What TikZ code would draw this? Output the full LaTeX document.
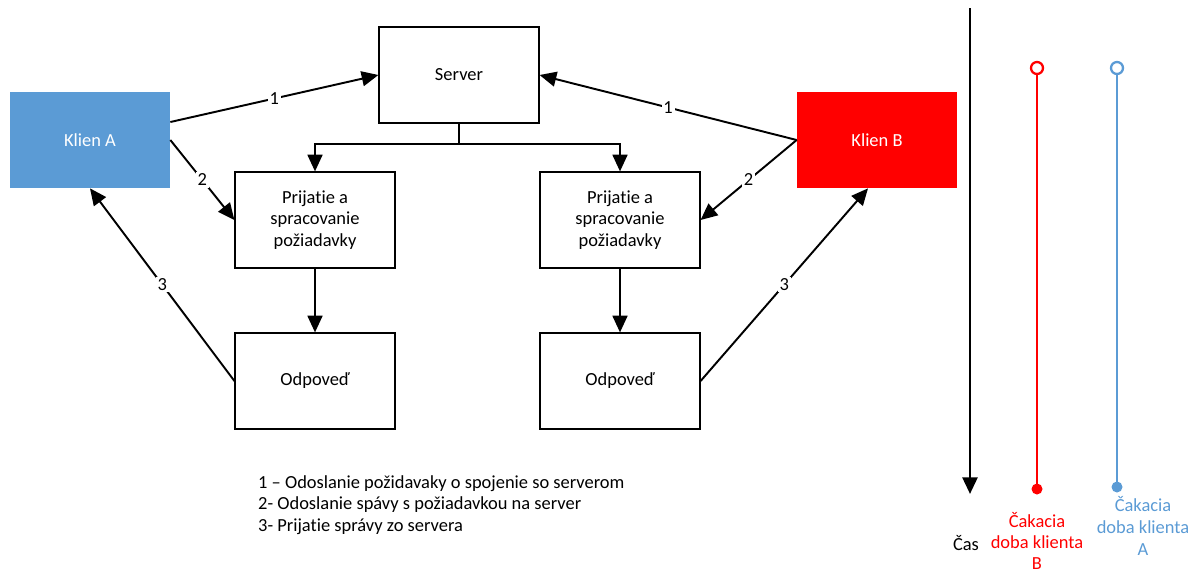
\documentclass[tikz,border=0pt]{standalone}
\usepackage{fontspec}
\setmainfont{Carlito}[Ligatures=NoCommon]
\usetikzlibrary{arrows.meta}
\definecolor{klienblue}{HTML}{5B9BD5}
\definecolor{klienred}{HTML}{FF0000}

\begin{document}
\begin{tikzpicture}[x=0.02cm,y=-0.02cm,
    font=\fontsize{10.5}{12.4}\selectfont,
    box/.style={draw=black,line width=0.7pt,minimum width=3.2cm,minimum height=1.92cm,align=center,fill=white},
    klien/.style={minimum width=3.2cm,minimum height=1.92cm,text=white},
    arr/.style={line width=1.1pt,-{Triangle[length=9.5pt,width=8.5pt]}},
    lbl/.style={fill=white,inner sep=1pt}]
  \useasboundingbox (0,0) rectangle (1197,576);

  % clients and server
  \node[klien,fill=klienblue] (klienA) at (90,140) {Klien A};
  \node[klien,fill=klienred] (klienB) at (877,140) {Klien B};
  \node[box] (server) at (459,75) {Server};

  % processing of requests
  \node[box] (prijL) at (315,220) {Prijatie a\\spracovanie\\požiadavky};
  \node[box] (prijR) at (620,220) {Prijatie a\\spracovanie\\požiadavky};
  \node[box] (odpL) at (315,381) {Odpoveď};
  \node[box] (odpR) at (620,381) {Odpoveď};

  % connections
  \draw[arr] ([yshift=0.36cm]klienA.east) -- node[lbl] {1} (server.west);
  \draw[arr] (klienB.west) -- node[lbl] {1} (server.east);
  \draw[arr] (klienA.east) -- node[lbl] {2} (prijL.west);
  \draw[arr] (klienB.west) -- node[lbl] {2} (prijR.east);
  \draw[arr] (server.south) -- ++(0,20) -| (prijL.north);
  \draw[arr] (server.south) -- ++(0,20) -| (prijR.north);
  \draw[arr] (prijL.south) -- (odpL.north);
  \draw[arr] (prijR.south) -- (odpR.north);
  \draw[arr] (odpL.west) -- node[lbl] {3} (klienA.south);
  \draw[arr] (odpR.east) -- node[lbl] {3} ([xshift=-0.18cm]klienB.south);

  % legend
  \node[anchor=north west,align=left] (legenda) at (252,469)
    {1 -- Odoslanie požidavaky o spojenie so serverom\\
     2- Odoslanie spávy s požiadavkou na server\\
     3- Prijatie správy zo servera};

  % time axis
  \coordinate (casTop) at (970,8);
  \coordinate (casEnd) at (970,494);
  \draw[arr,line width=1.6pt] (casTop) -- (casEnd);
  \node (cas) at (966,543) {Čas};

  % waiting times
  \coordinate (redTop) at (1037,68);
  \coordinate (redEnd) at (1037,489);
  \draw[klienred,line width=1.1pt] ([yshift=-0.12cm]redTop) -- (redEnd);
  \draw[klienred,line width=1.3pt,fill=white] (redTop) circle (0.12cm);
  \fill[klienred] (redEnd) circle (0.11cm);
  \node[text=klienred,align=center,inner sep=0pt,font=\fontsize{10.5}{11.8}\selectfont] (cakB) at (1037,541) {Čakacia\\doba klienta\\B};

  \coordinate (blueTop) at (1117,68);
  \coordinate (blueEnd) at (1117,487);
  \draw[klienblue,line width=1.1pt] ([yshift=-0.12cm]blueTop) -- (blueEnd);
  \draw[klienblue,line width=1.3pt,fill=white] (blueTop) circle (0.12cm);
  \fill[klienblue] (blueEnd) circle (0.11cm);
  \node[text=klienblue,align=center,inner sep=0pt] (cakA) at (1143,526) {Čakacia\\doba klienta\\A};
\end{tikzpicture}
\end{document}
